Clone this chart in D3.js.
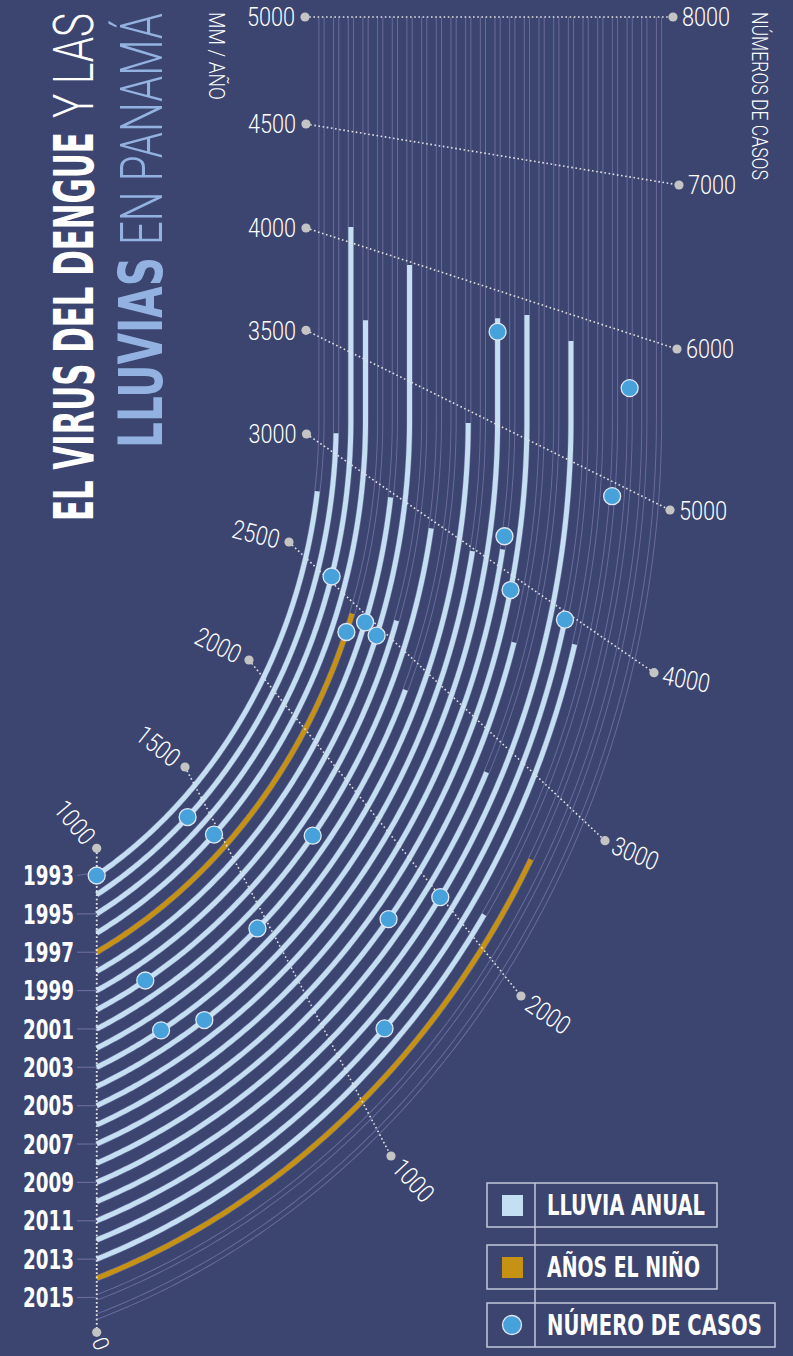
<!DOCTYPE html>
<html lang="es">
<head>
<meta charset="UTF-8">
<title>El virus del dengue y las lluvias en Panamá</title>
<script src="https://cdn.jsdelivr.net/npm/d3@7"></script>
<style>
body{margin:0;background:#3b4570;}
svg{display:block;}
</style>
</head>
<body>
<script>
// ---- data ----
var years = d3.range(1993, 2017);   // one track per year, 2015-2016 sin datos
var lluvia = [2800,3096,4070,3675,2466,2980,3986,2575,2971,2399,3453,2990,3896,3068,3946,2809,2396,3909,2960,2929,2074,2302];
var casos  = [0,846,3042,961,2793,2952,2940,305,1588,944,349,560,5692,4236,3906,1681,null,1997,3955,1313,4908,5650];
var ninoYears = [1997, 2014];
var yearLabels = [1993,1995,1997,1999,2001,2003,2005,2007,2009,2011,2013,2015];
var mmTicks = [1000,1500,2000,2500,3000,3500,4000,4500,5000];
var casosTicks = [0,1000,2000,3000,4000,5000,6000,7000,8000];

var w = 793, h = 1356;
var light = "Roboto, 'Open Sans', sans-serif";
var narrow = "'Liberation Sans Narrow', 'DejaVu Sans Condensed', sans-serif";
var bg = "#3b4570";

var svg = d3.select("body").append("svg").attr("width", w).attr("height", h);
svg.append("rect").attr("width", w).attr("height", h).attr("fill", bg);

// ---- scales: rainfall ticks on the inner edge, cases ticks on the outer edge ----
var mmX = d3.scaleLinear().domain(mmTicks).range([96.7,185,249,289,306.5,306,306,306,305]);
var mmY = d3.scaleLinear().domain(mmTicks).range([848.3,767,660,542,434,330.3,228,124,17]);
var casX = d3.scaleLinear().domain(casosTicks).range([96.7,391,521,605,654,670,677,679,673]);
var casY = d3.scaleLinear().domain(casosTicks).range([1332.3,1156,996,840.7,672.7,510,349,185,17]);
var mmToCasos = d3.scaleLinear().domain([1000,5000]).range([0,8000]);
function L(v){ return [mmX(v), mmY(v)]; }
function R(v){ var c = mmToCasos(v); return [casX(c), casY(c)]; }
// which side of the iso line of value v a point lies on
function side(v, p){ var a = L(v), b = R(v); return (b[0]-a[0])*(p[1]-a[1]) - (b[1]-a[1])*(p[0]-a[0]); }

// ---- tracks: elliptic arc from the axis bending into a vertical line ----
var axisX = 96.7, topY = 17, bendY = 420, squash = 1.15;
var trackX = d3.scaleLinear().domain([0,23]).range([321.5,659]);
var trackY0 = d3.scaleLinear().domain([0,21]).range([875.5,1278.3]);

function trackPts(i){
  var X = trackX(i), Ay = trackY0(i);
  var dx = X - axisX, dy = Ay - bendY;
  var a = (dx*dx + dy*dy/(squash*squash)) / (2*dx), b = a*squash, cx = X - a;
  var phiA = Math.atan2(dy/b, (axisX - cx)/a), pts = [];
  for (var k = 0; k <= 200; k++){ var phi = phiA*(1 - k/200); pts.push([cx + a*Math.cos(phi), bendY + b*Math.sin(phi)]); }
  for (var y = bendY - 5; y > topY; y -= 5) pts.push([X, y]);
  pts.push([X, topY]);
  return pts;
}
// part of a track from the axis up to the iso line of value v
function cut(pts, v){
  var out = [pts[0]], s0 = side(v, pts[0]);
  for (var k = 1; k < pts.length; k++){
    var s1 = side(v, pts[k]);
    if ((s0 <= 0 && s1 > 0) || (s0 >= 0 && s1 < 0)){
      var f = s0/(s0 - s1), p = pts[k-1], q = pts[k];
      out.push([p[0] + f*(q[0]-p[0]), p[1] + f*(q[1]-p[1])]);
      return out;
    }
    out.push(pts[k]); s0 = s1;
  }
  return out;
}

var tracks = years.map(function(y, i){ return trackPts(i); });
var line = d3.line();

// faint full tracks (double hairline)
var g0 = svg.append("g").attr("fill", "none");
tracks.forEach(function(pts){
  g0.append("path").attr("d", line(pts)).attr("stroke", "#6a6a9c").attr("stroke-width", 6.2);
  g0.append("path").attr("d", line(pts)).attr("stroke", bg).attr("stroke-width", 4.2);
});

// rainfall bars
var gb = svg.append("g").attr("fill", "none");
lluvia.forEach(function(v, i){
  gb.append("path").attr("d", line(cut(tracks[i], v)))
    .attr("stroke", ninoYears.indexOf(years[i]) >= 0 ? "#c69214" : "#c5dff2")
    .attr("stroke-width", 5);
});

// iso lines
var gi = svg.append("g");
mmTicks.forEach(function(v){
  var a = L(v), b = R(v);
  gi.append("line").attr("x1", a[0]).attr("y1", a[1]).attr("x2", b[0]).attr("y2", b[1])
    .attr("stroke", "#e2e2e2").attr("stroke-width", 1.6).attr("stroke-dasharray", "1.6 2.6");
});
gi.append("line").attr("x1", axisX).attr("x2", axisX).attr("y1", mmY(1000)).attr("y2", casY(0))
  .attr("stroke", "#e2e2e2").attr("stroke-width", 1.6).attr("stroke-dasharray", "1.6 2.6");

// tick dots and labels
var Lc = [-275, 402], Rc = [-214, 502];
mmTicks.forEach(function(v){
  var p = L(v), ang = Math.max(0, Math.atan2(p[1]-Lc[1], p[0]-Lc[0])*180/Math.PI);
  if (v >= 3000) ang = 0;
  gi.append("circle").attr("cx", p[0]).attr("cy", p[1]).attr("r", 4.6).attr("fill", "#c4c4c4");
  gi.append("text").attr("transform", "translate(" + p[0] + "," + p[1] + ") rotate(" + ang + ")")
    .attr("x", -10).attr("dy", "0.36em").attr("text-anchor", "end")
    .attr("font-family", light).attr("font-weight", 300).attr("font-size", 26).attr("fill", "#fff")
    .attr("textLength", 48).attr("lengthAdjust", "spacingAndGlyphs").text(v);
});
casosTicks.forEach(function(c){
  var p = [casX(c), casY(c)], ang = Math.max(0, Math.atan2(p[1]-Rc[1], p[0]-Rc[0])*180/Math.PI);
  if (c > 5000) ang = 0;
  gi.append("circle").attr("cx", p[0]).attr("cy", p[1]).attr("r", 4.6).attr("fill", "#c4c4c4");
  gi.append("text").attr("transform", "translate(" + p[0] + "," + p[1] + ") rotate(" + ang + ")")
    .attr("x", c === 0 ? 6 : 9).attr("dy", "0.36em").attr("text-anchor", "start")
    .attr("font-family", light).attr("font-weight", 300).attr("font-size", c === 0 ? 22 : 26).attr("fill", "#fff")
    .attr("textLength", c === 0 ? 12 : 48).attr("lengthAdjust", "spacingAndGlyphs").text(c);
});

// year labels
var gy = svg.append("g");
yearLabels.forEach(function(y){
  var yy = trackY0(y - 1993);
  gy.append("line").attr("x1", 77).attr("x2", axisX).attr("y1", yy).attr("y2", y === 1993 ? 872.3 : yy)
    .attr("stroke", "#6a6a9c").attr("stroke-width", 1.2);
  gy.append("text").attr("x", 74).attr("y", yy).attr("dy", "0.36em").attr("text-anchor", "end")
    .attr("font-family", narrow).attr("font-weight", 700).attr("font-size", 27).attr("fill", "#fff")
    .attr("textLength", 51).attr("lengthAdjust", "spacingAndGlyphs").text(y);
});

// cases circles
var gc = svg.append("g");
casos.forEach(function(c, i){
  if (c === null) return;
  var pts = cut(tracks[i], 1000 + c/2), p = pts[pts.length-1];
  gc.append("circle").attr("cx", p[0]).attr("cy", p[1]).attr("r", 8.5)
    .attr("fill", "#47a2dc").attr("stroke", "#dfe8f2").attr("stroke-width", 1.3);
});

// text squeezed to a measured length
function fitText(sel, x, y, rot, len){
  var sx = len / sel.node().getComputedTextLength();
  sel.attr("transform", "translate(" + x + "," + y + ") rotate(" + rot + ") scale(" + sx + ",1)");
}
function vtext(x, y, rot, txt, fam, weight, size, len, col){
  var t = svg.append("text")
    .attr("font-family", fam).attr("font-weight", weight).attr("font-size", size).attr("fill", col)
    .text(txt);
  fitText(t, x, y, rot, len);
}
vtext(93, 521, -90, "EL VIRUS DEL DENGUE", narrow, 700, 55, 389, "#fff");
vtext(93, 118, -90, "Y LAS", light, 300, 56, 105, "#fff");
vtext(162, 448, -90, "LLUVIAS", narrow, 700, 60, 191, "#93b2e1");
vtext(162, 245, -90, "EN PANAMÁ", light, 300, 60, 232, "#93b2e1");
vtext(209, 12, 90, "MM / AÑO", light, 300, 22, 88, "#fff");
vtext(752, 12, 90, "NÚMEROS DE CASOS", light, 300, 22, 168, "#fff");

// legend
var lg = svg.append("g").attr("font-family", narrow).attr("font-weight", 700).attr("font-size", 28).attr("fill", "#fff");
[[1183, 230, "LLUVIA ANUAL", 158], [1245, 230, "AÑOS EL NIÑO", 153], [1303, 288, "NÚMERO DE CASOS", 215]].forEach(function(d){
  lg.append("rect").attr("x", 487).attr("y", d[0]).attr("width", d[1]).attr("height", 44)
    .attr("fill", "none").attr("stroke", "#c3c7d8").attr("stroke-width", 1.5);
  var t = lg.append("text").attr("dy", "0.36em").text(d[2]);
  fitText(t, 547, d[0] + 22, 0, d[3]);
});
lg.append("line").attr("x1", 535).attr("x2", 535).attr("y1", 1183).attr("y2", 1347).attr("stroke", "#c3c7d8").attr("stroke-width", 1.5);
lg.append("rect").attr("x", 502).attr("y", 1195).attr("width", 21).attr("height", 21).attr("fill", "#c5dff2");
lg.append("rect").attr("x", 502).attr("y", 1257).attr("width", 21).attr("height", 21).attr("fill", "#c69214");
lg.append("circle").attr("cx", 512).attr("cy", 1325).attr("r", 9.5).attr("fill", "#47a2dc").attr("stroke", "#dfe8f2").attr("stroke-width", 1.3);
</script>
</body>
</html>
